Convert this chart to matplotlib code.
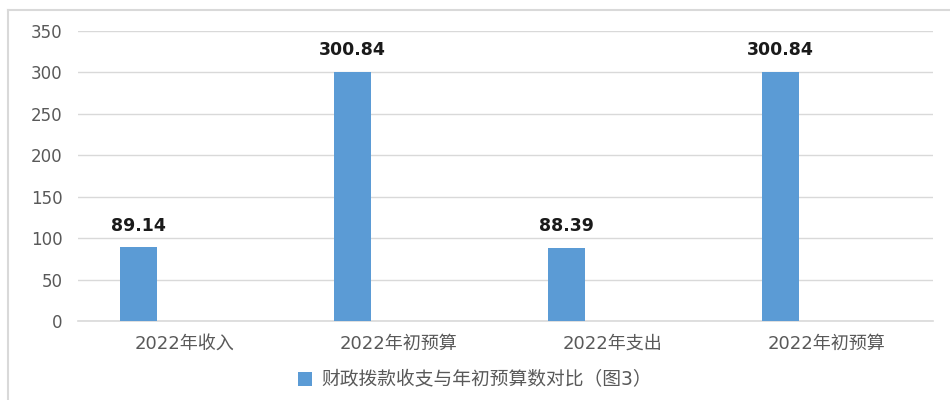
import matplotlib
matplotlib.use("Agg")
import matplotlib.pyplot as plt
from matplotlib.lines import Line2D

FAM = ['DejaVu Sans', 'Noto Sans CJK SC']
plt.rcParams['font.family'] = FAM

categories = ["2022年收入", "2022年初预算", "2022年支出", "2022年初预算"]
values = [89.14, 300.84, 88.39, 300.84]
series_name = "财政拨款收支与年初预算数对比（图3）"
yticks = [0, 50, 100, 150, 200, 250, 300, 350]

bar_color = "#5b9bd5"
grid_color = "#d9d9d9"
text_color = "#595959"

fig = plt.figure(figsize=(9.5, 4), dpi=100)
ax = fig.add_axes([78/950, 1-321/400, (933-78)/950, (321-31)/400])

x = list(range(len(categories)))
xpos = [i - 0.215 for i in x]
bars = ax.bar(xpos, values, width=0.173, color=bar_color, label=series_name, zorder=3)

for b, v in zip(bars, values):
    ax.annotate(f"{v:.2f}", (b.get_x() + b.get_width()/2, v), xytext=(0, 9),
                textcoords="offset points", ha="center", va="bottom",
                fontsize=12.5, fontweight="bold", color="#1a1a1a")

ax.set_xlim(-0.5, 3.5)
ax.set_ylim(0, 350)
ax.set_yticks(yticks)
ax.set_xticks(x)
ax.set_xticklabels(categories)
ax.yaxis.grid(True, color=grid_color, linewidth=1, zorder=0)
ax.set_axisbelow(True)
for s in ["top", "right", "left"]:
    ax.spines[s].set_visible(False)
ax.spines["bottom"].set_color(grid_color)
ax.spines["bottom"].set_linewidth(1.2)
ax.tick_params(axis="y", length=0, labelsize=12, colors=text_color, pad=11)
ax.tick_params(axis="x", length=0, labelsize=13, colors=text_color, pad=10)

leg = fig.legend(handles=[bars], labels=[series_name], loc="center", bbox_to_anchor=(0.5, 1-380/400),
                 frameon=False, fontsize=13.5, handlelength=0.7, handleheight=0.7, handletextpad=0.5)
for t in leg.get_texts():
    t.set_color(text_color)

# outer frame (left and top)
fig.add_artist(Line2D([8/950, 8/950], [0, 1-10/400], transform=fig.transFigure, color=grid_color, lw=1.5))
fig.add_artist(Line2D([8/950, 1], [1-10/400, 1-10/400], transform=fig.transFigure, color=grid_color, lw=1.5))

fig.savefig("out.png", dpi=100)
